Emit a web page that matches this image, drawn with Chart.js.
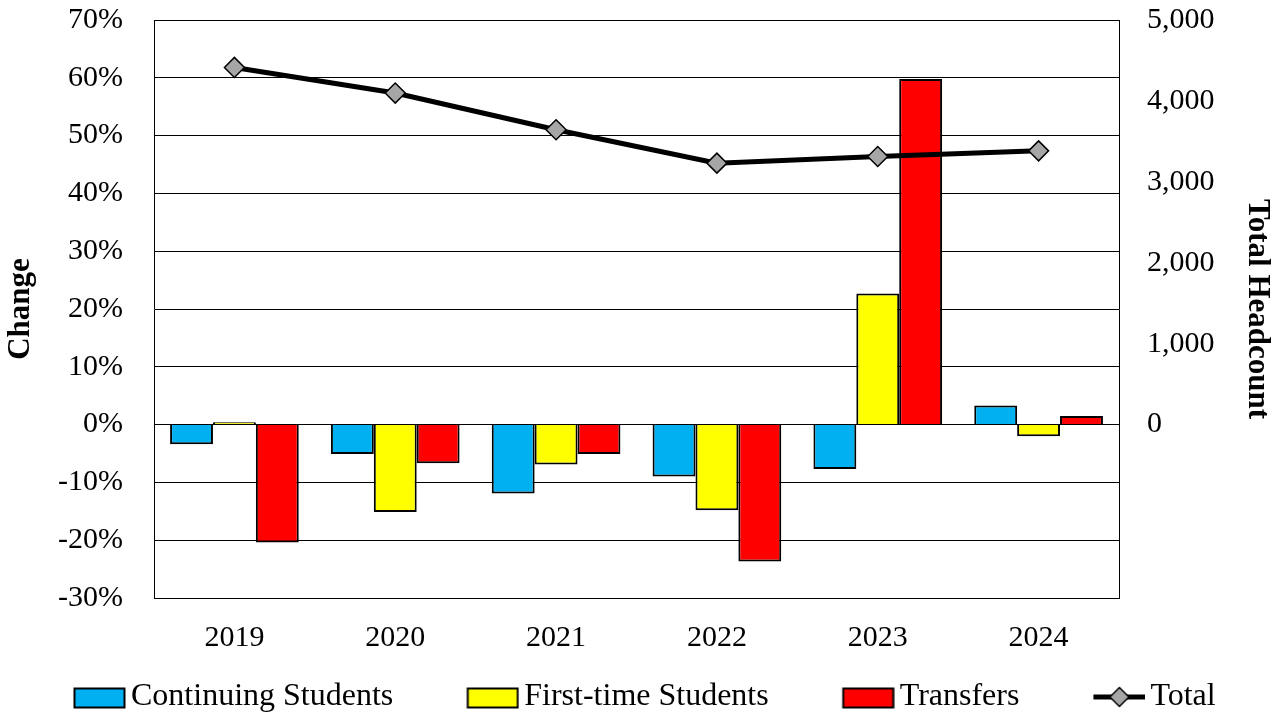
<!DOCTYPE html>
<html>
<head>
<meta charset="utf-8">
<style>
  html, body { margin: 0; padding: 0; background: #ffffff; }
  #wrap { width: 1283px; height: 715px; }
</style>
<script src="https://cdn.jsdelivr.net/npm/chart.js@4.4.1/dist/chart.umd.min.js"></script>
</head>
<body>
<div id="wrap"><canvas id="c" width="1283" height="715"></canvas></div>
<script>
// ---- data ----
const categories = ['2019', '2020', '2021', '2022', '2023', '2024'];
const continuingStudents = [-3.4, -5.1, -11.9, -9.0, -7.7, 3.3];
const firstTimeStudents  = [0.4, -15.1, -6.9, -14.8, 22.7, -2.0];
const transfers          = [-20.4, -6.7, -5.1, -23.7, 59.8, 1.5];
const totalHeadcount     = [4414, 4097, 3643, 3231, 3313, 3383];
const leftTicks  = [-30, -20, -10, 0, 10, 20, 30, 40, 50, 60, 70];
const rightTicks = [0, 1000, 2000, 3000, 4000, 5000];
const seriesNames = ['Continuing Students', 'First-time Students', 'Transfers', 'Total'];

const FONT = "'Liberation Serif', 'Times New Roman', serif";
const COLORS = ['#00B0F0', '#FFFF00', '#FF0000'];
const MARKER_FILL = '#A6A6A6';

// right axis shares its zero with the left one
const leftMin = leftTicks[0], leftMax = leftTicks[leftTicks.length - 1];
const rightMax = rightTicks[rightTicks.length - 1];
const rightMin = rightMax * leftMin / leftMax;

function fmtThousands(v) {
  return String(v).replace(/\B(?=(\d{3})+(?!\d))/g, ',');
}

// legend icons
function boxIcon(color) {
  const cv = document.createElement('canvas');
  cv.width = 127; cv.height = 26;
  const g = cv.getContext('2d');
  g.fillStyle = color;
  g.fillRect(75.5, 4.5, 50, 19);
  g.strokeStyle = '#000';
  g.lineWidth = 2;
  g.strokeRect(75.5, 4.5, 50, 19);
  return cv;
}
function lineIcon() {
  const cv = document.createElement('canvas');
  cv.width = 127; cv.height = 26;
  const g = cv.getContext('2d');
  g.strokeStyle = '#000';
  g.lineWidth = 5;
  g.beginPath(); g.moveTo(75, 13); g.lineTo(127, 13); g.stroke();
  const cx = 101, cy = 13, r = 9.5;
  g.beginPath();
  g.moveTo(cx - r, cy); g.lineTo(cx, cy - r); g.lineTo(cx + r, cy); g.lineTo(cx, cy + r); g.closePath();
  g.fillStyle = MARKER_FILL; g.fill();
  g.lineWidth = 1.5; g.stroke();
  return cv;
}
const icons = [boxIcon(COLORS[0]), boxIcon(COLORS[1]), boxIcon(COLORS[2]), lineIcon()];

const barCommon = {
  type: 'bar',
  yAxisID: 'y',
  borderColor: '#000000',
  borderWidth: 2,
  categoryPercentage: 0.8,
  barPercentage: 1.0,
  order: 1
};

new Chart(document.getElementById('c'), {
  data: {
    labels: categories,
    datasets: [
      Object.assign({}, barCommon, { label: seriesNames[0], data: continuingStudents, backgroundColor: COLORS[0] }),
      Object.assign({}, barCommon, { label: seriesNames[1], data: firstTimeStudents, backgroundColor: COLORS[1] }),
      Object.assign({}, barCommon, { label: seriesNames[2], data: transfers, backgroundColor: COLORS[2] }),
      {
        type: 'line',
        label: seriesNames[3],
        data: totalHeadcount,
        yAxisID: 'y2',
        borderColor: '#000000',
        borderWidth: 5,
        tension: 0,
        fill: false,
        pointStyle: 'rectRot',
        pointRadius: 10,
        pointBackgroundColor: MARKER_FILL,
        pointBorderColor: '#000000',
        pointBorderWidth: 1.5,
        order: 0
      }
    ]
  },
  options: {
    responsive: false,
    animation: false,
    events: [],
    layout: { padding: { top: 20, left: 0, right: 0, bottom: -8 } },
    plugins: {
      tooltip: { enabled: false },
      legend: {
        position: 'bottom',
        align: 'start',
        labels: {
          usePointStyle: true,
          pointStyleWidth: 105,
          padding: 10,
          color: '#000',
          font: { family: FONT, size: 32 },
          generateLabels: function () {
            return seriesNames.map((name, i) => ({
              text: name,
              fillStyle: 'rgba(0,0,0,0)',
              strokeStyle: 'rgba(0,0,0,0)',
              lineWidth: 0,
              pointStyle: icons[i],
              hidden: false,
              datasetIndex: i
            }));
          }
        }
      }
    },
    scales: {
      x: {
        offset: true,
        grid: { display: false },
        border: { display: false },
        ticks: { color: '#000', font: { family: FONT, size: 30 }, padding: 14, maxRotation: 0 },
        afterFit: function (s) { s.height = 73; }
      },
      y: {
        position: 'left',
        min: leftMin,
        max: leftMax,
        afterBuildTicks: function (s) { s.ticks = leftTicks.map(v => ({ value: v })); },
        grid: { color: '#000000', lineWidth: 1, drawTicks: false },
        border: { display: true, color: '#000000', width: 1 },
        ticks: {
          color: '#000', font: { family: FONT, size: 30 }, padding: 31,
          callback: v => v + '%'
        },
        title: {
          display: true, text: 'Change', color: '#000',
          font: { family: FONT, size: 31, weight: 'bold' },
          padding: { top: 2, bottom: 0 }
        },
        afterFit: function (s) { s.width = 154; s.paddingTop = 0; s.paddingBottom = 0; }
      },
      y2: {
        position: 'right',
        min: rightMin,
        max: rightMax,
        afterBuildTicks: function (s) { s.ticks = rightTicks.map(v => ({ value: v })); },
        grid: { display: false, drawTicks: false },
        border: { display: true, color: '#000000', width: 1 },
        ticks: {
          color: '#000', font: { family: FONT, size: 30 }, padding: 28,
          callback: v => fmtThousands(v)
        },
        title: {
          display: true, text: 'Total Headcount', color: '#000',
          font: { family: FONT, size: 31, weight: 'bold' },
          padding: { top: 7, bottom: 0 }
        },
        afterFit: function (s) { s.width = 164; s.paddingTop = 0; s.paddingBottom = 0; }
      }
    }
  }
});
</script>
</body>
</html>
